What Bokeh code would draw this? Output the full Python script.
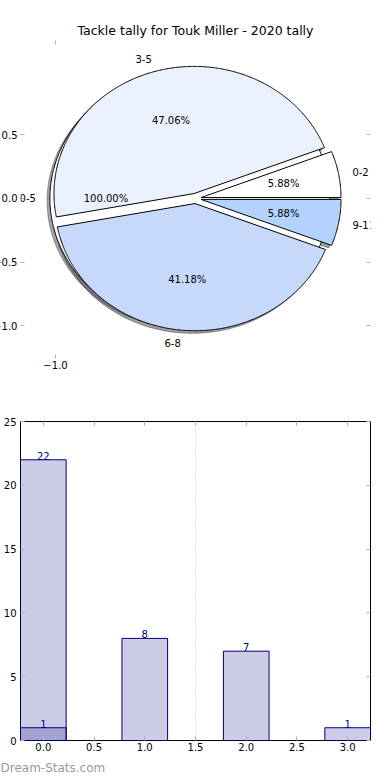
import numpy as np
from bokeh.plotting import figure
from bokeh.models import (ColumnDataSource, LinearAxis, FixedTicker, Span, Range1d,
                          Title, GlobalInlineStyleSheet, LabelSet)
from bokeh.core.properties import value
from bokeh.layouts import column
from bokeh.embed import file_html
from bokeh.resources import INLINE

# ---------------- data ----------------
TITLE = "Tackle tally for Touk Miller - 2020 tally"

# background pie (single slice)
outer_labels = ["0-5"]
outer_counts = [1]
outer_colors = ["#ffffff"]

# main pie
pie_labels = ["0-2", "3-5", "6-8", "9-11"]
pie_counts = [1, 8, 7, 1]
pie_colors = ["#ffffff", "#eaf1fd", "#c6d9fb", "#b3d3fe"]

# pie axis ticks
pie_yticks = [0.5, 0.0, -0.5, -1.0]
pie_ytick_labels = ["0.5", "0.0", "\u22120.5", "\u22121.0"]
pie_xticks = [-1.0]
pie_xtick_labels = ["\u22121.0"]

# bar chart
bar_x = [0, 1, 2, 3]
bar_values = [22, 8, 7, 1]
overlay_x = [0]
overlay_values = [1]
bar_xticks = [0.0, 0.5, 1.0, 1.5, 2.0, 2.5, 3.0]
bar_xtick_labels = ["0.0", "0.5", "1.0", "1.5", "2.0", "2.5", "3.0"]
bar_yticks = [0, 5, 10, 15, 20, 25]
bar_ytick_labels = ["0", "5", "10", "15", "20", "25"]
divider_x = 1.5
WATERMARK = "Dream-Stats.com"

# ---------------- styles ----------------
FONT = "DejaVu Sans"
TICK_COLOR = "#b0b0b0"
EXPLODE = 0.04
RADIUS = 1.0
SHADOW_OFF = (-0.02, -0.02)
LABEL_DIST = 1.1
PCT_DIST = 0.6


def darken(hexcol, f=0.3):
    h = hexcol.lstrip("#")
    r, g, b = (int(h[i:i + 2], 16) for i in (0, 2, 4))
    return "#%02x%02x%02x" % (int(r * f), int(g * f), int(b * f))


def pie_geometry(counts, labels, colors):
    total = float(sum(counts))
    fr = np.asarray(counts, dtype=float) / total
    t2 = np.cumsum(fr) * 360.0
    t1 = np.concatenate([[0.0], t2[:-1]])
    xs, ys = [], []
    lab = {"left": dict(x=[], y=[], text=[]), "right": dict(x=[], y=[], text=[])}
    pct_x, pct_y, pct_text = [], [], []
    for a, b, f, name in zip(t1, t2, fr, labels):
        mid = np.deg2rad((a + b) / 2.0)
        cx, cy = EXPLODE * np.cos(mid), EXPLODE * np.sin(mid)
        th = np.deg2rad(np.linspace(a, b, max(int((b - a) * 2), 12)))
        ex = cx + RADIUS * np.cos(th)
        ey = cy + RADIUS * np.sin(th)
        if b - a < 359.999:
            ex = np.concatenate([[cx], ex, [cx]])
            ey = np.concatenate([[cy], ey, [cy]])
        xs.append(list(ex))
        ys.append(list(ey))
        lx = cx + LABEL_DIST * RADIUS * np.cos(mid)
        ly = cy + LABEL_DIST * RADIUS * np.sin(mid)
        side = "left" if lx > 0 else "right"
        lab[side]["x"].append(lx)
        lab[side]["y"].append(ly)
        lab[side]["text"].append(name)
        pct_x.append(cx + PCT_DIST * RADIUS * np.cos(mid))
        pct_y.append(cy + PCT_DIST * RADIUS * np.sin(mid))
        pct_text.append("%.2f%%" % (100.0 * f))
    wedge = ColumnDataSource(dict(xs=xs, ys=ys, color=list(colors)))
    shadow = ColumnDataSource(dict(
        xs=[list(np.asarray(x) + SHADOW_OFF[0]) for x in xs],
        ys=[list(np.asarray(y) + SHADOW_OFF[1]) for y in ys],
        color=[darken(c) for c in colors]))
    labs = {k: ColumnDataSource(v) for k, v in lab.items()}
    pcts = ColumnDataSource(dict(x=pct_x, y=pct_y, text=pct_text))
    return wedge, shadow, labs, pcts


def make_axis(ticks, labels, show_labels, standoff=3):
    ax = LinearAxis(ticker=FixedTicker(ticks=list(ticks)),
                    major_label_overrides={float(t): l for t, l in zip(ticks, labels)})
    ax.axis_line_color = None
    ax.major_tick_in = 4
    ax.major_tick_out = 0
    ax.major_tick_line_color = TICK_COLOR
    ax.major_tick_line_width = 1
    ax.minor_tick_line_color = None
    ax.major_label_text_font = FONT
    ax.major_label_text_font_size = "10px"
    ax.major_label_text_color = "black"
    ax.major_label_standoff = standoff
    if not show_labels:
        ax.major_label_text_font_size = "1px"
        ax.major_label_text_color = None
        ax.major_label_standoff = 0
    return ax


# ---------------- pie figure ----------------
pie = figure(width=402, height=388,
             x_range=Range1d(-1.25, 1.25), y_range=Range1d(-1.258, 1.242),
             x_axis_type=None, y_axis_type=None,
             output_backend="svg", toolbar_location=None,
             min_border_left=32, min_border_right=20,
             min_border_top=40, min_border_bottom=30)
pie.outline_line_color = None
pie.grid.visible = False
pie.background_fill_color = "white"
pie.border_fill_color = "white"
pie.title.text = TITLE
pie.title.align = "center"
pie.title.text_font = FONT
pie.title.text_font_size = "12.5px"
pie.title.text_font_style = "normal"
pie.title.text_color = "black"
pie.title.standoff = 6

pie.add_layout(make_axis(pie_yticks, pie_ytick_labels, True), "left")
pie.add_layout(make_axis(pie_yticks, pie_ytick_labels, False), "right")
pie.add_layout(make_axis(pie_xticks, pie_xtick_labels, True, standoff=2), "below")
pie.add_layout(make_axis(pie_xticks, pie_xtick_labels, False), "above")

o_w, o_s, o_l, o_p = pie_geometry(outer_counts, outer_labels, outer_colors)
m_w, m_s, m_l, m_p = pie_geometry(pie_counts, pie_labels, pie_colors)

for s in (o_s, m_s):
    pie.patches("xs", "ys", source=s, fill_color="color", fill_alpha=0.5,
                line_color="color", line_alpha=0.5, line_width=1)
for w in (o_w, m_w):
    pie.patches("xs", "ys", source=w, fill_color="color", line_color="black",
                line_width=1)
for labs in (o_l, m_l):
    for side, src in labs.items():
        pie.add_layout(LabelSet(x="x", y="y", text="text", source=src,
                                text_align=side, text_baseline="middle",
                                text_font=value(FONT), text_font_size=value("10px"),
                                text_color="black"))
for pc in (o_p, m_p):
    pie.text("x", "y", text="text", source=pc, text_align="center",
             text_baseline="middle", text_font_size="10px", text_color="black",
             text_font=value(FONT))

# ---------------- bar figure ----------------
bar = figure(width=402, height=392,
             x_range=Range1d(-0.225, 3.225), y_range=Range1d(0, 25),
             x_axis_type=None, y_axis_type=None,
             output_backend="svg", toolbar_location=None,
             min_border_left=32, min_border_right=20,
             min_border_top=33, min_border_bottom=40)
bar.outline_line_color = "black"
bar.outline_line_width = 1
bar.grid.visible = False
bar.background_fill_color = "white"
bar.border_fill_color = "white"

bar.add_layout(make_axis(bar_yticks, bar_ytick_labels, True, standoff=4), "left")
bar.add_layout(make_axis(bar_yticks, bar_ytick_labels, False), "right")
bar.add_layout(make_axis(bar_xticks, bar_xtick_labels, True, standoff=2), "below")
bar.add_layout(make_axis(bar_xticks, bar_xtick_labels, False), "above")

bar.add_layout(Span(location=divider_x, dimension="height", line_color="#c4c4c4",
                    line_dash="1 2", line_width=1, level="underlay"))

bars = ColumnDataSource(dict(x=bar_x, top=bar_values, text=[str(v) for v in bar_values]))
over = ColumnDataSource(dict(x=overlay_x, top=overlay_values, text=[str(v) for v in overlay_values]))
for s in (bars, over):
    bar.vbar(x="x", top="top", bottom=0, width=0.45, source=s,
             fill_color="navy", fill_alpha=0.2, line_color="navy", line_width=1)
for s in (bars, over):
    bar.text(x="x", y="top", text="text", source=s, text_align="center",
             text_baseline="bottom", text_font_size="10px", text_color="navy",
             text_font=value(FONT))

bar.add_layout(Title(text=WATERMARK, align="left", offset=-20, standoff=11,
                     text_font=FONT, text_font_size="12px", text_font_style="normal",
                     text_color="#9a9a9a"), "below")

layout = column(pie, bar, spacing=0)
layout.stylesheets = [GlobalInlineStyleSheet(css=(
    "html { margin: 0 !important; padding: 0 !important; overflow: hidden !important; }"
    " body { margin: 0 0 0 -12px !important; padding: 0 !important;"
    " width: 402px !important; min-width: 402px !important; overflow: visible !important; }"))]
open("out.html", "w").write(file_html(layout, INLINE))
